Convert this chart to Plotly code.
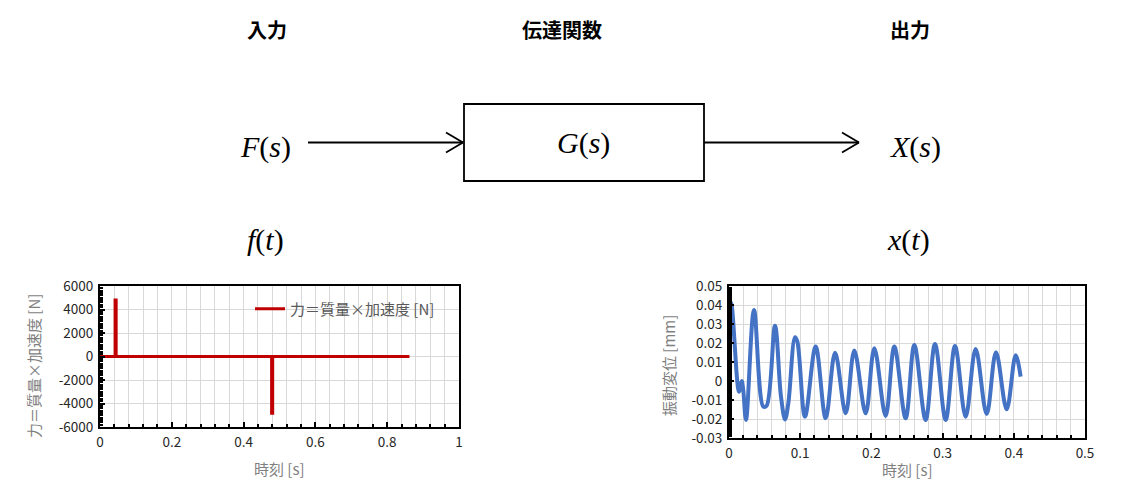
import plotly.graph_objects as go

# target picture size; the page keeps an 8px body margin around the figure
W, H = 1121, 491
PAD = 8
FW, FH = W - 2 * PAD, H - 2 * PAD

# --- input force (left chart) ---
force_t = [0.0, 0.042, 0.042, 0.045, 0.045, 0.478, 0.478, 0.481, 0.481, 0.862]
force_n = [0, 0, 4800, 4800, 0, 0, -4830, -4830, 0, 0]
force_name = "力＝質量×加速度 [N]"

# --- output displacement (right chart) ---
disp_t = [0.0, 0.003, 0.014, 0.0178, 0.020, 0.0239, 0.0351, 0.0482, 0.0529,
          0.0646, 0.073, 0.0787, 0.0833, 0.0927, 0.096, 0.1067, 0.1217,
          0.1358, 0.149, 0.1639, 0.176, 0.192, 0.2041, 0.220, 0.2322,
          0.2481, 0.2603, 0.2762, 0.2893, 0.3043, 0.3174, 0.3324, 0.3464,
          0.3619, 0.375, 0.39, 0.4026, 0.4096]
disp_mm = [0.034, 0.041, -0.0056, 0.0, -0.0047, -0.0205, 0.0374, -0.0135,
           -0.013, 0.0291, -0.0082, -0.0202, -0.0118, 0.023, 0.0207, -0.0188,
           0.0181, -0.0196, 0.0149, -0.017, 0.016, -0.017, 0.0172, -0.0184,
           0.0181, -0.0196, 0.0189, -0.0205, 0.0195, -0.0205, 0.0184, -0.0188,
           0.0168, -0.0174, 0.0151, -0.0149, 0.0135, 0.0023]

# tick labels
left_xticks = [0, 0.2, 0.4, 0.6, 0.8, 1]
left_xlabels = ["0", "0.2", "0.4", "0.6", "0.8", "1"]
left_yticks = [6000, 4000, 2000, 0, -2000, -4000, -6000]
left_ylabels = ["6000", "4000", "2000", "0", "-2000", "-4000", "-6000"]
right_xticks = [0, 0.1, 0.2, 0.3, 0.4, 0.5]
right_xlabels = ["0", "0.1", "0.2", "0.3", "0.4", "0.5"]
right_yticks = [0.05, 0.04, 0.03, 0.02, 0.01, 0, -0.01, -0.02, -0.03]
right_ylabels = ["0.05", "0.04", "0.03", "0.02", "0.01", "0",
                 "-0.01", "-0.02", "-0.03"]

FONT = "Noto Sans CJK JP"
MATH = "Liberation Serif"
GRID = "#d9d9d9"


def px(x):
    # screen pixel -> paper fraction
    return (x - PAD) / FW


def py(y):
    return 1 - (y - PAD) / FH


def axis_style(tickvals, ticktext, rng, minor_dtick, minor_grid):
    return dict(
        range=rng,
        tickvals=tickvals,
        ticktext=ticktext,
        ticks="inside",
        ticklen=5,
        tickwidth=1.5,
        tickcolor="black",
        showline=True,
        linecolor="black",
        linewidth=2,
        mirror=True,
        showgrid=True,
        gridcolor=GRID,
        gridwidth=1,
        zeroline=False,
        automargin=False,
        ticklabelstandoff=2,
        tickfont=dict(family=FONT, size=13.5, color="#262626"),
        minor=dict(
            dtick=minor_dtick,
            ticks="inside",
            ticklen=3,
            tickwidth=1.5,
            tickcolor="black",
            showgrid=minor_grid,
            gridcolor=GRID,
            gridwidth=1,
        ),
        fixedrange=True,
    )


fig = go.Figure()

fig.add_trace(go.Scatter(
    x=force_t, y=force_n, mode="lines", name=force_name,
    line=dict(color="#c00000", width=3),
    xaxis="x", yaxis="y", showlegend=True,
))
fig.add_trace(go.Scatter(
    x=disp_t, y=disp_mm, mode="lines", name="振動変位",
    line=dict(color="#4472c4", width=4, shape="spline", smoothing=1.0),
    xaxis="x2", yaxis="y2", showlegend=False,
))

fig.update_layout(
    width=FW, height=FH,
    margin=dict(l=0, r=0, t=0, b=0, pad=0),
    paper_bgcolor="white",
    plot_bgcolor="white",
    font=dict(family=FONT),
    xaxis=dict(domain=[px(100), px(459)], anchor="y",
               **axis_style(left_xticks, left_xlabels, [0, 1], 0.04, True)),
    yaxis=dict(domain=[py(427), py(286)], anchor="x",
               **axis_style(left_yticks, left_ylabels, [-6000, 6000], 200, False)),
    xaxis2=dict(domain=[px(729), px(1085)], anchor="y2",
                **axis_style(right_xticks, right_xlabels, [0, 0.5], 0.02, True)),
    yaxis2=dict(domain=[py(438), py(286)], anchor="x2",
                **axis_style(right_yticks, right_ylabels, [-0.03, 0.05], 0.001, False)),
    legend=dict(
        x=px(250), y=py(309), xanchor="left", yanchor="middle",
        bgcolor="rgba(0,0,0,0)", itemwidth=30,
        font=dict(family=FONT, size=15, color="#595959"),
    ),
)

# axis titles
title_font = dict(family=FONT, size=15, color="#7f7f7f")
annos = [
    dict(x=px(279), y=py(468), text="時刻 [s]"),
    dict(x=px(907), y=py(469), text="時刻 [s]"),
    dict(x=px(33), y=py(366), text="力＝質量×加速度 [N]", textangle=-90),
    dict(x=px(668), y=py(366), text="振動変位 [mm]", textangle=-90),
]
for a in annos:
    fig.add_annotation(xref="paper", yref="paper", showarrow=False,
                       xanchor="center", yanchor="middle",
                       font=title_font, **a)

# block diagram headings
head_font = dict(family=FONT, size=20, color="black")
for x, t in [(267, "入力"), (562, "伝達関数"), (910, "出力")]:
    fig.add_annotation(x=px(x), y=py(30), xref="paper", yref="paper",
                       xanchor="center", yanchor="middle",
                       text="<b>" + t + "</b>", showarrow=False, font=head_font)

math_font = dict(family=MATH, size=30, color="black")
for x, y, t in [(265, 147, "<i>F</i>(<i>s</i>)"),
                (583, 143, "<i>G</i>(<i>s</i>)"),
                (915, 147, "<i>X</i>(<i>s</i>)"),
                (265, 240, "<i>f</i>(<i>t</i>)"),
                (908, 240, "<i>x</i>(<i>t</i>)")]:
    fig.add_annotation(x=px(x), y=py(y), xref="paper", yref="paper",
                       xanchor="center", yanchor="middle",
                       text=t, showarrow=False, font=math_font)

# box and arrows
line = dict(color="black", width=1.8)
fig.add_shape(type="rect", xref="paper", yref="paper",
              x0=px(464), x1=px(704), y0=py(181), y1=py(104), line=line)
for x0, x1, y in [(308, 463, 142.5), (704, 859, 142.5)]:
    fig.add_shape(type="line", xref="paper", yref="paper",
                  x0=px(x0), x1=px(x1), y0=py(y), y1=py(y), line=line)
    fig.add_shape(type="line", xref="paper", yref="paper",
                  x0=px(x1 - 17), x1=px(x1), y0=py(y - 10), y1=py(y), line=line)
    fig.add_shape(type="line", xref="paper", yref="paper",
                  x0=px(x1 - 17), x1=px(x1), y0=py(y + 10), y1=py(y), line=line)

fig.write_html("out.html")
